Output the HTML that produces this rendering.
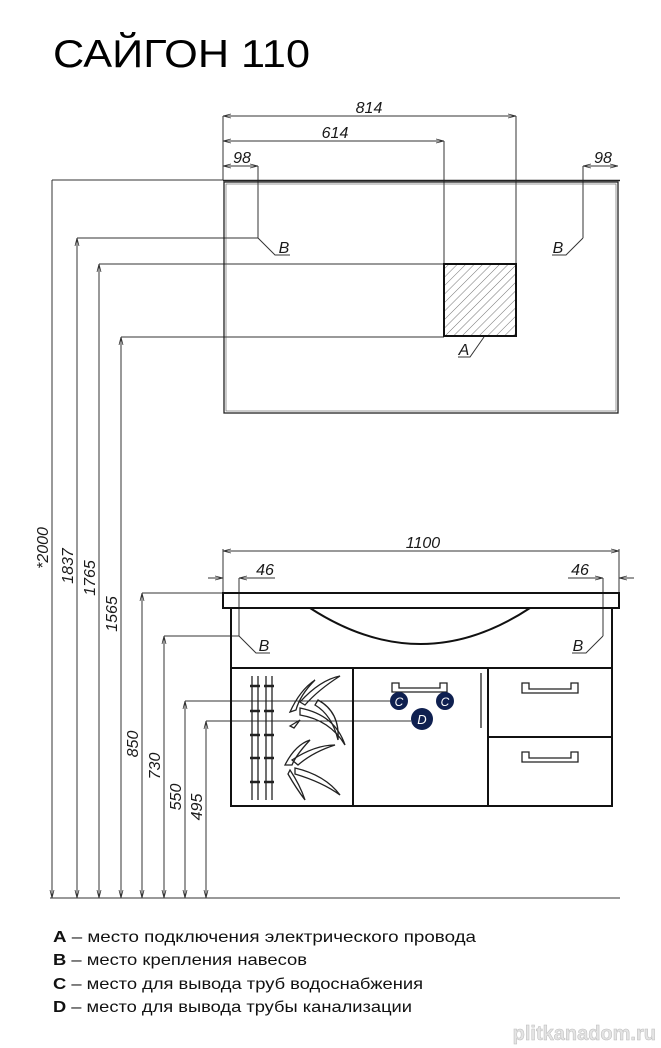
<!DOCTYPE html>
<html><head><meta charset="utf-8"><style>
html,body{margin:0;padding:0;background:#fff;}
svg{display:block;}
.d{font-family:"Liberation Sans",sans-serif;font-style:italic;font-size:16px;fill:#1a1a1a;}
.lg{font-family:"Liberation Sans",sans-serif;font-size:16px;fill:#111;}
</style></head><body>
<svg width="661" height="1048" viewBox="0 0 661 1048" xmlns="http://www.w3.org/2000/svg">
<defs>
<pattern id="h" width="6" height="6" patternUnits="userSpaceOnUse" patternTransform="rotate(45)">
<line x1="0" y1="0" x2="0" y2="6" stroke="#777" stroke-width="1"/></pattern>
<marker id="a" viewBox="0 0 8 6" refX="8" refY="3" markerWidth="8" markerHeight="6" orient="auto-start-reverse"><path d="M0,1 L8,3 L0,5" fill="none" stroke="#333" stroke-width="0.8"/></marker>
</defs>
<text x="53" y="67" font-family="Liberation Sans,sans-serif" font-size="39" fill="#000" textLength="257" lengthAdjust="spacingAndGlyphs">САЙГОН 110</text>

<g stroke="#333" stroke-width="1" fill="none">
<line x1="52" y1="180" x2="52" y2="898" marker-end="url(#a)"/>
<line x1="77" y1="238" x2="77" y2="898" marker-start="url(#a)" marker-end="url(#a)"/>
<line x1="99" y1="264" x2="99" y2="898" marker-start="url(#a)" marker-end="url(#a)"/>
<line x1="121" y1="337" x2="121" y2="898" marker-start="url(#a)" marker-end="url(#a)"/>
<line x1="142" y1="593" x2="142" y2="898" marker-start="url(#a)" marker-end="url(#a)"/>
<line x1="164" y1="636" x2="164" y2="898" marker-start="url(#a)" marker-end="url(#a)"/>
<line x1="185" y1="701" x2="185" y2="898" marker-start="url(#a)" marker-end="url(#a)"/>
<line x1="206" y1="721" x2="206" y2="898" marker-start="url(#a)" marker-end="url(#a)"/>
<line x1="50" y1="898" x2="620" y2="898"/>
<line x1="52" y1="180" x2="223" y2="180"/>
<line x1="77" y1="238" x2="258" y2="238"/>
<line x1="99" y1="264" x2="444" y2="264"/>
<line x1="121" y1="337" x2="444" y2="337"/>
<line x1="142" y1="593" x2="223" y2="593"/>
<line x1="164" y1="636" x2="239" y2="636"/>
<line x1="185" y1="701" x2="390" y2="701"/>
<line x1="206" y1="721" x2="411" y2="721"/>
<line x1="223" y1="116" x2="223" y2="180"/>
<line x1="516" y1="116" x2="516" y2="264"/>
<line x1="223" y1="116" x2="516" y2="116" marker-start="url(#a)" marker-end="url(#a)"/>
<line x1="444" y1="141" x2="444" y2="264"/>
<line x1="223" y1="141" x2="444" y2="141" marker-start="url(#a)" marker-end="url(#a)"/>
<line x1="258" y1="166" x2="258" y2="238"/>
<line x1="223" y1="166" x2="258" y2="166" marker-start="url(#a)" marker-end="url(#a)"/>
<line x1="583" y1="166" x2="583" y2="238"/>
<line x1="583" y1="166" x2="618" y2="166" marker-start="url(#a)" marker-end="url(#a)"/>
<polyline points="258,238 275,255 290,255"/>
<polyline points="583,238 566,255 552,255"/>
<polyline points="484,337 470,357 458,357"/>
<line x1="223" y1="549" x2="223" y2="593"/>
<line x1="619" y1="549" x2="619" y2="593"/>
<line x1="223" y1="551" x2="619" y2="551" marker-start="url(#a)" marker-end="url(#a)"/>
<line x1="208" y1="578" x2="223" y2="578" marker-end="url(#a)"/>
<line x1="239" y1="578" x2="275" y2="578" marker-start="url(#a)"/>
<line x1="239" y1="578" x2="239" y2="636"/>
<line x1="634" y1="578" x2="619" y2="578" marker-end="url(#a)"/>
<line x1="603" y1="578" x2="568" y2="578" marker-start="url(#a)"/>
<line x1="603" y1="578" x2="603" y2="636"/>
<polyline points="239,636 256,653 270,653"/>
<polyline points="603,636 586,653 572,653"/>
</g>

<line x1="223" y1="180.5" x2="620" y2="180.5" stroke="#222" stroke-width="1.5"/>
<rect x="224" y="182" width="394" height="231" fill="none" stroke="#222" stroke-width="1.3"/>
<rect x="226" y="184" width="390" height="227" fill="none" stroke="#555" stroke-width="0.6"/>
<rect x="444" y="264" width="72" height="72" fill="url(#h)" stroke="#111" stroke-width="2"/>

<g stroke="#111" stroke-width="2" fill="none">
<rect x="223" y="593" width="396" height="15"/>
<path d="M231,608 L231,806 L612,806 L612,608"/>
<path d="M310,608 Q421,680 530,608"/>
<line x1="231" y1="668" x2="612" y2="668"/>
<line x1="353" y1="668" x2="353" y2="806"/>
<line x1="488" y1="668" x2="488" y2="806"/>
<line x1="488" y1="737" x2="612" y2="737"/>
</g>
<g stroke="#222" stroke-width="1.3" fill="none">
<line x1="481" y1="673" x2="481" y2="728"/>
<path d="M392,683 L392,692 L447,692 L447,683 L440,683 L440,688 L399,688 L399,683 Z"/>
<path d="M522,683 L522,693 L578,693 L578,683 L571,683 L571,689 L529,689 L529,683 Z"/>
<path d="M522,752 L522,762 L578,762 L578,752 L571,752 L571,758 L529,758 L529,752 Z"/>
<line x1="252" y1="676" x2="252" y2="800"/><line x1="258" y1="676" x2="258" y2="800"/>
<line x1="266" y1="676" x2="266" y2="800"/><line x1="272" y1="676" x2="272" y2="800"/>
<path d="M250,686h10M250,711h10M250,735h10M250,758h10M250,782h10M264,686h10M264,711h10M264,735h10M264,758h10M264,782h10" stroke-width="2.5"/>
<path d="M290,712 Q300,690 315,680 Q300,695 296,710 Z"/>
<path d="M300,702 Q320,680 340,676 Q318,690 305,705 Z"/>
<path d="M300,708 Q335,715 345,745 Q330,720 300,715 Z"/>
<path d="M318,700 Q340,712 338,740 Q332,715 315,705 Z"/>
<path d="M290,726 L300,720 L294,728 Z"/>
<path d="M285,765 Q295,745 310,740 Q296,755 292,765 Z"/>
<path d="M292,760 Q315,745 335,745 Q313,752 298,765 Z"/>
<path d="M295,768 Q325,775 340,795 Q322,782 295,774 Z"/>
<path d="M290,770 Q300,785 305,800 Q296,788 288,774 Z"/>
</g>
<circle cx="399" cy="701" r="9" fill="#0f2050"/>
<circle cx="445" cy="701" r="9" fill="#0f2050"/>
<circle cx="422" cy="719" r="11" fill="#0f2050"/>
<g font-family="Liberation Sans,sans-serif" font-style="italic" fill="#fff" text-anchor="middle">
<text x="399" y="706" font-size="12">C</text><text x="445" y="706" font-size="12">C</text><text x="422" y="724" font-size="13">D</text>
</g>

<g class="d" text-anchor="middle">
<text x="369" y="113">814</text>
<text x="335" y="138">614</text>
<text x="242" y="163">98</text>
<text x="603" y="163">98</text>
<text x="284" y="253">B</text>
<text x="558" y="253">B</text>
<text x="464" y="355">A</text>
<text x="423" y="548">1100</text>
<text x="265" y="575">46</text>
<text x="580" y="575">46</text>
<text x="264" y="651">B</text>
<text x="578" y="651">B</text>
<text transform="translate(48,548) rotate(-90)">*2000</text>
<text transform="translate(73,566) rotate(-90)">1837</text>
<text transform="translate(95,578) rotate(-90)">1765</text>
<text transform="translate(117,614) rotate(-90)">1565</text>
<text transform="translate(138,744) rotate(-90)">850</text>
<text transform="translate(160,766) rotate(-90)">730</text>
<text transform="translate(181,797) rotate(-90)">550</text>
<text transform="translate(202,807) rotate(-90)">495</text>
</g>

<g class="lg">
<text x="53" y="942" textLength="423" lengthAdjust="spacingAndGlyphs"><tspan font-weight="bold">A</tspan> – место подключения электрического провода</text>
<text x="53" y="965" textLength="254" lengthAdjust="spacingAndGlyphs"><tspan font-weight="bold">B</tspan> – место крепления навесов</text>
<text x="53" y="989" textLength="370" lengthAdjust="spacingAndGlyphs"><tspan font-weight="bold">C</tspan> – место для вывода труб водоснабжения</text>
<text x="53" y="1012" textLength="359" lengthAdjust="spacingAndGlyphs"><tspan font-weight="bold">D</tspan> – место для вывода трубы канализации</text>
</g>
<text x="656" y="1040" text-anchor="end" font-family="Liberation Sans,sans-serif" font-size="20" font-weight="bold" fill="#e4e4e4" stroke="#bbb" stroke-width="0.5">plitkanadom.ru</text>
</svg>
</body></html>
